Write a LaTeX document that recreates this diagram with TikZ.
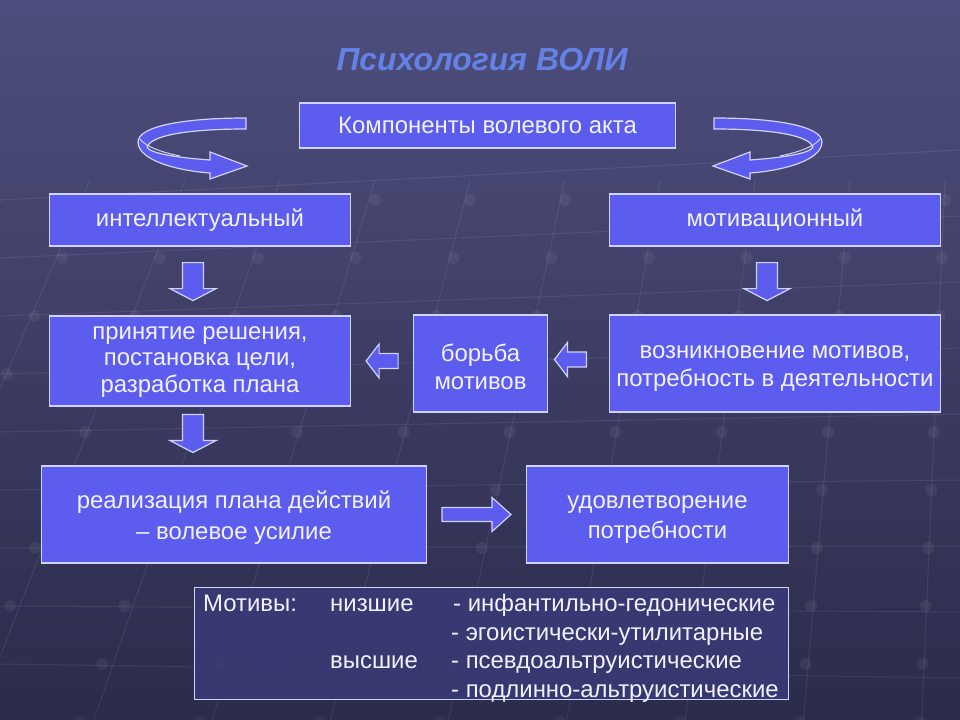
\documentclass[tikz,border=0pt]{standalone}
\usepackage{fontspec}
\setmainfont{Liberation Sans}
\usetikzlibrary{calc}
\definecolor{bgtop}{HTML}{4E4E7E}
\definecolor{bgbot}{HTML}{2B2B4A}
\definecolor{boxfill}{HTML}{5C5CEE}
\definecolor{boxline}{HTML}{D2D2FF}
\definecolor{titlecol}{HTML}{6482E6}
\definecolor{txtcol}{HTML}{F2F2FF}
\definecolor{darkbox}{HTML}{3A3A78}
\begin{document}
\begin{tikzpicture}[x=1bp,y=-1bp,
  box/.style={draw=boxline, line width=1.4bp, fill=boxfill, text=txtcol,
    font=\fontsize{24}{28}\selectfont, align=center, inner sep=0pt},
  btxt/.style={text=txtcol, font=\fontsize{24}{28}\selectfont, align=center, inner sep=0pt},
  blk/.style={draw=boxline, line width=1.2bp, fill=boxfill, line join=miter},
  mtxt/.style={anchor=base west, text=txtcol, font=\fontsize{24}{28}\selectfont, inner sep=0pt},
  gridl/.style={draw=white, opacity=0.08, line width=1bp},
  pics/darr/.style={code={\path[blk] (-10.5,0) -- (-10.5,26) -- (-23,26) -- (0,38) -- (23,26) -- (10.5,26) -- (10.5,0) -- cycle;}},
  pics/larr/.style={code={\path[blk] (32,-7.5) -- (13,-7.5) -- (13,-17) -- (0,0) -- (13,17) -- (13,7.5) -- (32,7.5) -- cycle;}},
  pics/rarr/.style={code={\path[blk] (0,-7) -- (50,-7) -- (50,-17) -- (69,0) -- (50,17) -- (50,7) -- (0,7) -- cycle;}},
  pics/curvarr/.style={code={
    \path[blk] (246,118) .. controls (185,118) and (138,126) .. (138,142)
      .. controls (138,161) and (180,171) .. (210,173)
      -- (210,179) -- (247,166) -- (210,152) -- (210,160)
      .. controls (182,158) and (150,154) .. (147,147)
      .. controls (152,134) and (195,129) .. (246,129) -- cycle;
    \draw[draw=boxline, line width=1bp] (140,139) .. controls (145,146) and (160,152) .. (180,156);
  }}
]
\useasboundingbox (0,0) rectangle (960,720);
\shade[top color=bgtop, bottom color=bgbot] (0,0) rectangle (960,720);
% faint background grid
\begin{scope}
\clip (0,0) rectangle (960,720);
\foreach \i in {0,...,12} {
  \draw[gridl] (-100+\i*95,180) -- (-400+\i*120,760);
}
\foreach \j in {0,...,9} {
  \draw[gridl] (0,200+\j*58) -- (960,150+\j*66);
}
\foreach \i in {0,...,12} \foreach \j in {0,...,9} {
  \fill[white, opacity=0.06] ({-100+\i*95 + (-300+\i*25)*(\j/9)}, {200+\j*58}) circle (6);
}
\end{scope}

\node[font=\fontsize{32}{36}\selectfont\bfseries\itshape, text=titlecol] (title) at (482,60) {Психология ВОЛИ};

\node[box, minimum width=377, minimum height=45] (comp) at (487.5,125.5) {Компоненты волевого акта};
\node[box, minimum width=302, minimum height=52] (intel) at (200,220) {интеллектуальный};
\node[box, minimum width=332, minimum height=52] (motiv) at (775,220) {мотивационный};
\node[box, minimum width=302, minimum height=90, font=\fontsize{24}{26.5}\selectfont] (decis) at (200,361) {};
\node[btxt, font=\fontsize{24}{26.5}\selectfont] (decist) at ($(decis.center)+(0,1)$) {принятие решения,\\постановка цели,\\разработка плана};
\node[box, minimum width=135, minimum height=97] (borba) at (480.5,363.5) {};
\node[btxt] (borbat) at ($(borba.center)+(0,3)$) {борьба\\мотивов};
\node[box, minimum width=332, minimum height=97] (vozn) at (775,363.5) {};
\node[btxt] (voznt) at ($(vozn.center)+(0,5)$) {возникновение мотивов,\\потребность в деятельности};
\node[box, minimum width=386, minimum height=97] (real) at (234,514.5) {};
\node[btxt, font=\fontsize{24}{31}\selectfont] (realt) at ($(real.center)+(0,3)$) {реализация плана действий\\– волевое усилие};
\node[box, minimum width=263, minimum height=97] (udov) at (657.5,514.5) {};
\node[btxt, font=\fontsize{24}{31}\selectfont] (udovt) at ($(udov.center)+(0,5)$) {удовлетворение\\потребности};

\pic at (0,0) {curvarr};
\pic[xscale=-1] at (960,0) {curvarr};

\pic at ($(intel.south)+(-7,16)$) {darr};
\pic at ($(motiv.south)+(-8,16)$) {darr};
\pic at ($(decis.south)+(-7,8)$) {darr};
\pic at ($(decis.east)+(15,0)$) {larr};
\pic at ($(borba.east)+(6,-4)$) {larr};
\pic at ($(real.east)+(15,0)$) {rarr};

\node[draw=boxline, line width=1.2bp, fill=darkbox, fill opacity=0.85, minimum width=597, minimum height=113, inner sep=0pt] (motbox) at (491.5,643.5) {};
\node[mtxt] (m1) at (203,611) {Мотивы:};
\node[mtxt] (n1) at (330,611) {низшие};
\node[mtxt] (t1) at (453,611) {- инфантильно-гедонические};
\node[mtxt] (t2) at (451,640) {- эгоистически-утилитарные};
\node[mtxt] (n2) at (330,668) {высшие};
\node[mtxt] (t3) at (451,668) {- псевдоальтруистические};
\node[mtxt] (t4) at (451,697) {- подлинно-альтруистические};
\end{tikzpicture}
\end{document}
